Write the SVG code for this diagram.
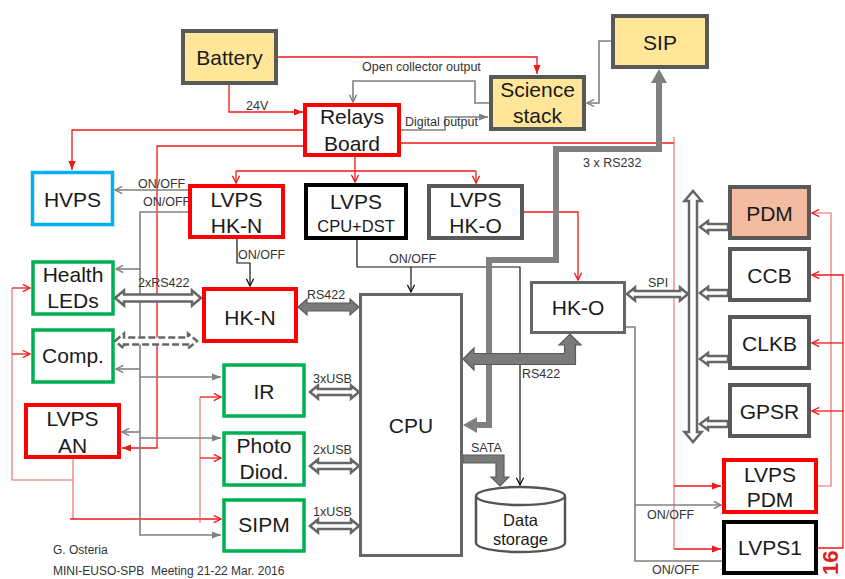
<svg xmlns="http://www.w3.org/2000/svg" width="845" height="579" viewBox="0 0 845 579">
<style>
text{font-family:"Liberation Sans",Arial,sans-serif;fill:#1a1a1a}
.t{font-size:21px;text-anchor:middle}
.s{font-size:12.5px;fill:#333}
.box{fill:#fff}
.yel{fill:#FFE699;stroke:#595959;stroke-width:4}
.dg{stroke:#595959;stroke-width:4}
.red{stroke:#FF0000;stroke-width:4}
.blk{stroke:#000;stroke-width:4}
.grn{stroke:#00B050;stroke-width:3.5}
.blu{stroke:#00B0F0;stroke-width:3.5}
.gry{stroke:#666;stroke-width:3}
.r{fill:none;stroke:#F01818;stroke-width:1.3}
.rl{fill:none;stroke:#E86464;stroke-width:1.1}
.g{fill:none;stroke:#808080;stroke-width:1.6}
.k{fill:none;stroke:#111;stroke-width:1.2}
.ha{fill:#fff;stroke:#666;stroke-width:2.5;stroke-linejoin:miter}
.fa{fill:#7a7a7a;stroke:#5a5a5a;stroke-width:1.2}
</style>
<defs>
<marker id="mRO" viewBox="0 0 10 10" refX="9" refY="5" markerWidth="9" markerHeight="9" markerUnits="userSpaceOnUse" orient="auto"><path d="M1,1 L9,5 L1,9" fill="none" stroke="#F01818" stroke-width="1.5"/></marker>
<marker id="mRF" viewBox="0 0 10 10" refX="10" refY="5" markerWidth="9" markerHeight="9" markerUnits="userSpaceOnUse" orient="auto"><path d="M0,1 L10,5 L0,9 Z" fill="#F01818"/></marker>
<marker id="mGO" viewBox="0 0 10 10" refX="9" refY="5" markerWidth="9" markerHeight="9" markerUnits="userSpaceOnUse" orient="auto"><path d="M1,1 L9,5 L1,9" fill="none" stroke="#808080" stroke-width="1.6"/></marker>
<marker id="mGF" viewBox="0 0 10 10" refX="10" refY="5" markerWidth="9" markerHeight="9" markerUnits="userSpaceOnUse" orient="auto"><path d="M0,1 L10,5 L0,9 Z" fill="#808080"/></marker>
<marker id="mKO" viewBox="0 0 10 10" refX="9" refY="5" markerWidth="9" markerHeight="9" markerUnits="userSpaceOnUse" orient="auto"><path d="M1,1 L9,5 L1,9" fill="none" stroke="#111" stroke-width="1.4"/></marker>
</defs>

<g id="connectors">
<path class="r" d="M278,57 H537 V74" marker-end="url(#mRF)"/>
<path class="r" d="M229,85 V112 H303" marker-end="url(#mRF)"/>
<path class="r" d="M303,130 H72 V170" marker-end="url(#mRF)"/>
<path class="r" d="M303,146 H157 V448 H122" marker-end="url(#mRF)"/>
<path class="r" d="M355,157 V171 M236,171 H476"/>
<path class="r" d="M236,171 V183" marker-end="url(#mRO)"/>
<path class="r" d="M355,171 V182" marker-end="url(#mRO)"/>
<path class="r" d="M476,171 V183" marker-end="url(#mRO)"/>
<path class="r" d="M401,143 H674"/>
<path class="rl" d="M674,137 V549"/>
<path class="r" d="M674,486 H721" marker-end="url(#mRF)"/>
<path class="r" d="M674,549 H721" marker-end="url(#mRF)"/>
<path class="r" d="M524,212 H578 V280" marker-end="url(#mRO)"/>
<path class="rl" d="M818,486 H831 V213 H812" marker-end="url(#mRO)"/>
<path class="r" d="M818,548 H843 V275 H812" marker-end="url(#mRO)"/>
<path class="r" d="M843,343 H812" marker-end="url(#mRO)"/>
<path class="r" d="M843,411 H812" marker-end="url(#mRO)"/>
<path class="rl" d="M73,459 V519 M12,288 V480 H73"/>
<path class="r" d="M70,519 H221" marker-end="url(#mRO)"/>
<path class="r" d="M12,288 H30" marker-end="url(#mRO)"/>
<path class="r" d="M12,354 H30" marker-end="url(#mRO)"/>
<path class="rl" d="M200,397 V523"/>
<path class="r" d="M200,397 H221" marker-end="url(#mRO)"/>
<path class="r" d="M200,458 H221" marker-end="url(#mRO)"/>
<path class="g" d="M188,190 H115" marker-end="url(#mGO)"/>
<path class="g" d="M188,212 H140 V535 H221" marker-end="url(#mGF)"/>
<path class="g" d="M140,269 H116" marker-end="url(#mGO)"/>
<path class="g" d="M140,369 H116" marker-end="url(#mGO)"/>
<path class="g" d="M140,377 H221" marker-end="url(#mGF)"/>
<path class="g" d="M140,432 H122" marker-end="url(#mGO)"/>
<path class="g" d="M140,438 H221" marker-end="url(#mGF)"/>
<path class="g" d="M489,103 H475 V81 H353 V102" marker-end="url(#mGO)"/>
<path class="g" d="M401,130 H445 V117 H488" marker-end="url(#mGF)"/>
<path class="g" d="M611,41 H599 V103 H587" marker-end="url(#mGO)"/>
<path class="g" d="M626,327 H635 V561 H722"/>
<path class="g" d="M635,505 H721" marker-end="url(#mGO)"/>
<path class="k" d="M237,239 V263 H250 V286" marker-end="url(#mKO)"/>
<path class="k" d="M357,240 V267 H520 V485" marker-end="url(#mKO)"/>
<path class="k" d="M411,267 V292" marker-end="url(#mKO)"/>
<polyline points="659,82 659,149 556,149 556,260 489,260 489,425 476,425" fill="none" stroke="#808080" stroke-width="6" stroke-linejoin="miter"/>
<polygon points="659,69 667,83 651,83" fill="#808080"/>
<polygon points="463,425 477,417 477,433" fill="#808080"/>
<path class="fa" d="M298,307 L307,299 L307,303 L350,303 L350,299 L359,307 L350,315 L350,311 L307,311 L307,315 Z"/>
<path class="fa" d="M463,359 L474,348 L474,353.5 L564.5,353.5 L564.5,345 L559,345 L570,334 L581,345 L575.5,345 L575.5,364.5 L474,364.5 L474,370 Z"/>
<path class="fa" d="M463,455 L504,455 L504,477 L509,477 L500,486 L491,477 L496,477 L496,463 L463,463 Z"/>
<path class="ha" d="M115,298 L124,290.5 L124,294.5 L192,294.5 L192,290.5 L201,298 L192,305.5 L192,301.5 L124,301.5 L124,305.5 Z"/>
<path class="ha" stroke-dasharray="7,3" d="M115,341 L124,333.5 L124,337.5 L188,337.5 L188,333.5 L197,341 L188,348.5 L188,344.5 L124,344.5 L124,348.5 Z"/>
<path class="ha" d="M310,392 L318,385.5 L318,389 L351,389 L351,385.5 L359,392 L351,398.5 L351,395 L318,395 L318,398.5 Z"/>
<path class="ha" d="M310,466 L318,459.5 L318,463 L351,463 L351,459.5 L359,466 L351,472.5 L351,469 L318,469 L318,472.5 Z"/>
<path class="ha" d="M310,526 L318,519.5 L318,523 L351,523 L351,519.5 L359,526 L351,532.5 L351,529 L318,529 L318,532.5 Z"/>
<path class="ha" d="M627,294 L635,287.5 L635,291 L680,291 L680,287.5 L688,294 L680,300.5 L680,297 L635,297 L635,300.5 Z"/>
<path class="ha" d="M693,191 L701.5,201 L697,201 L697,432 L701.5,432 L693,442 L684.5,432 L689,432 L689,201 L684.5,201 Z"/>
<path class="ha" d="M700,227 L708,221 L708,224 L728,224 L728,230 L708,230 L708,233 Z"/>
<path class="ha" d="M700,293 L708,287 L708,290 L728,290 L728,296 L708,296 L708,299 Z"/>
<path class="ha" d="M700,359 L708,353 L708,356 L728,356 L728,362 L708,362 L708,365 Z"/>
<path class="ha" d="M700,424 L708,418 L708,421 L728,421 L728,427 L708,427 L708,430 Z"/>
</g>

<g id="labels">
<text class="s" x="246" y="110">24V</text>
<text class="s" x="362" y="71">Open collector output</text>
<text class="s" x="405" y="126">Digital output</text>
<text class="s" x="583" y="167">3 x RS232</text>
<text class="s" x="138" y="188">ON/OFF</text>
<text class="s" x="143" y="206">ON/OFF</text>
<text class="s" x="238" y="259">ON/OFF</text>
<text class="s" x="389" y="263">ON/OFF</text>
<text class="s" x="138" y="287">2xRS422</text>
<text class="s" x="307" y="299">RS422</text>
<text class="s" x="648" y="287">SPI</text>
<text class="s" x="522" y="378">RS422</text>
<text class="s" x="313" y="383">3xUSB</text>
<text class="s" x="313" y="454">2xUSB</text>
<text class="s" x="313" y="516">1xUSB</text>
<text class="s" x="471" y="452">SATA</text>
<text class="s" x="647" y="519">ON/OFF</text>
<text class="s" x="652" y="574">ON/OFF</text>
</g>

<g id="battery"><rect class="yel" x="183" y="31" width="93" height="52"/><text class="t" x="229.5" y="65">Battery</text></g>
<g id="relays"><rect class="box red" x="305" y="105" width="94" height="50"/><text class="t" x="352" y="124">Relays</text><text class="t" x="352" y="151">Board</text></g>
<g id="science"><rect class="yel" x="491" y="77" width="93" height="52"/><text class="t" x="537.5" y="97">Science</text><text class="t" x="537.5" y="123">stack</text></g>
<g id="sip"><rect class="yel" x="613" y="16" width="94" height="51"/><text class="t" x="660" y="50">SIP</text></g>
<g id="hvps"><rect class="box blu" x="32.5" y="172.5" width="80" height="52"/><text class="t" x="72.5" y="207">HVPS</text></g>
<g id="lvps-hkn"><rect class="box red" x="190" y="186" width="93" height="51"/><text class="t" x="236.5" y="207">LVPS</text><text class="t" x="236.5" y="233">HK-N</text></g>
<g id="lvps-cpu"><rect class="box blk" x="306" y="185" width="100" height="53"/><text class="t" x="356" y="209">LVPS</text><text class="t" x="356" y="232" style="font-size:16.5px">CPU+DST</text></g>
<g id="lvps-hko"><rect class="box dg" x="429" y="186" width="93" height="52"/><text class="t" x="475.5" y="207">LVPS</text><text class="t" x="475.5" y="233">HK-O</text></g>
<g id="health"><rect class="box grn" x="33" y="262" width="80" height="52"/><text class="t" x="73" y="282">Health</text><text class="t" x="73" y="308">LEDs</text></g>
<g id="comp"><rect class="box grn" x="33" y="330" width="80" height="52"/><text class="t" x="73" y="363">Comp.</text></g>
<g id="lvps-an"><rect class="box red" x="26" y="405" width="93" height="52"/><text class="t" x="72.5" y="426">LVPS</text><text class="t" x="72.5" y="453">AN</text></g>
<g id="hkn"><rect class="box red" x="204" y="289" width="92" height="52"/><text class="t" x="250" y="325">HK-N</text></g>
<g id="cpu"><rect class="box gry" x="360.5" y="294.5" width="101" height="261"/><text class="t" x="411" y="433">CPU</text></g>
<g id="ir"><rect class="box grn" x="224" y="365" width="80" height="51"/><text class="t" x="264" y="399">IR</text></g>
<g id="photo"><rect class="box grn" x="224" y="433" width="80" height="52"/><text class="t" x="264" y="453">Photo</text><text class="t" x="264" y="479">Diod.</text></g>
<g id="sipm"><rect class="box grn" x="224" y="500" width="80" height="51"/><text class="t" x="264" y="532">SIPM</text></g>
<g id="hko"><rect class="box gry" x="531.5" y="282.5" width="93" height="50"/><text class="t" x="578" y="315">HK-O</text></g>
<g id="storage"><path d="M476,496 V543 A44.5,9 0 0 0 565,543 V496" fill="#fff" stroke="#555" stroke-width="2.5"/><ellipse cx="520.5" cy="496" rx="44.5" ry="9" fill="#fff" stroke="#555" stroke-width="2.5"/><text class="t" x="520.5" y="526" style="font-size:16.5px">Data</text><text class="t" x="520.5" y="545" style="font-size:16.5px">storage</text></g>
<g id="pdm"><rect class="dg" fill="#F2BBA2" x="730" y="187" width="79" height="51"/><text class="t" x="769.5" y="221">PDM</text></g>
<g id="ccb"><rect class="box dg" x="730" y="249" width="79" height="51"/><text class="t" x="769.5" y="283">CCB</text></g>
<g id="clkb"><rect class="box dg" x="730" y="317" width="79" height="51"/><text class="t" x="769.5" y="351">CLKB</text></g>
<g id="gpsr"><rect class="box dg" x="730" y="385" width="79" height="51"/><text class="t" x="769.5" y="419">GPSR</text></g>
<g id="lvps-pdm"><rect class="box red" x="724" y="460" width="92" height="52"/><text class="t" x="770" y="482">LVPS</text><text class="t" x="770" y="507">PDM</text></g>
<g id="lvps1"><rect class="box blk" x="724" y="522" width="92" height="51"/><text class="t" x="770" y="555">LVPS1</text></g>

<g id="footer">
<text x="53" y="554" style="font-size:12px;fill:#333">G. Osteria</text>
<text x="53" y="575" style="font-size:12px;fill:#333" xml:space="preserve">MINI-EUSO-SPB  Meeting 21-22 Mar. 2016</text>
<text x="838" y="575" transform="rotate(-90 838 575)" style="font-size:22px;font-weight:bold;fill:#E02020">16</text>
</g>
</svg>
